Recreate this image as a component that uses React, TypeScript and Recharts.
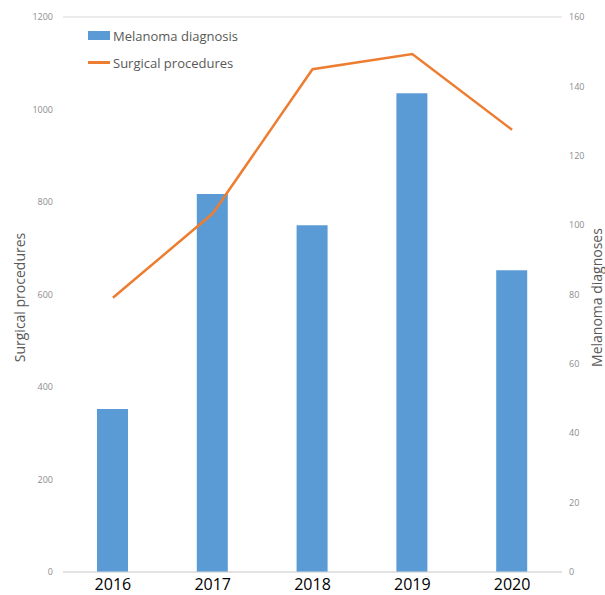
import { ComposedChart, Bar, Line, XAxis, YAxis, CartesianGrid, Legend, Label } from "recharts";

const years = ["2016", "2017", "2018", "2019", "2020"];
const melanomaDiagnoses = [47, 109, 100, 138, 87];
const surgicalProcedures = [593, 775, 1087, 1120, 956];
const leftTicks = [0, 200, 400, 600, 800, 1000, 1200];
const rightTicks = [0, 20, 40, 60, 80, 100, 120, 140, 160];

const BLUE = "#5b9bd5";
const ORANGE = "#ed7d31";
const FONT = "'Open Sans', sans-serif";

const data = years.map((year, i) => ({
  year,
  melanoma: melanomaDiagnoses[i],
  surgical: surgicalProcedures[i],
}));

function LegendBox({ payload }: any) {
  return (
    <div style={{ fontFamily: FONT, fontSize: 13, color: "#595959" }}>
      {(payload || []).map((item: any) => (
        <div key={item.value} style={{ display: "flex", alignItems: "center", height: 27 }}>
          {item.type === "line" ? (
            <span style={{ display: "inline-block", width: 22, height: 2.5, background: ORANGE, marginRight: 3 }} />
          ) : (
            <span style={{ display: "inline-block", width: 22, height: 9, background: BLUE, marginRight: 3 }} />
          )}
          <span>{item.value}</span>
        </div>
      ))}
    </div>
  );
}

const axisTitle = (text: string, dxFromLeft: number) => (props: any) => {
  const vb = props.viewBox;
  const x = vb.x + dxFromLeft;
  const y = vb.y + vb.height / 2 + 3;
  return (
    <text
      x={x}
      y={y}
      transform={`rotate(-90, ${x}, ${y})`}
      textAnchor="middle"
      dominantBaseline="central"
      fontFamily={FONT}
      fontSize={14}
      fill="#595959"
    >
      {text}
    </text>
  );
};

export default function App() {
  return (
    <div style={{ position: "absolute", left: 0, top: 0, background: "#fff" }}>
      <ComposedChart width={605} height={595} data={data} margin={{ top: 17, right: 0, bottom: 0, left: 0 }}>
        <CartesianGrid vertical={false} stroke="#d9d9d9" />
        <XAxis
          dataKey="year"
          height={23}
          tickLine={false}
          axisLine={{ stroke: "#d9d9d9" }}
          tickSize={5}
          tickMargin={2}
          tick={{ fontFamily: FONT, fontSize: 16, fill: "#000" }}
        />
        <YAxis
          yAxisId="left"
          orientation="left"
          width={63}
          domain={[0, 1200]}
          ticks={leftTicks}
          axisLine={false}
          tickLine={false}
          tickSize={8}
          tickMargin={2}
          tick={{ fontFamily: FONT, fontSize: 9, fill: "#8c8c8c" }}
        >
          <Label content={axisTitle("Surgical procedures", 19)} />
        </YAxis>
        <YAxis
          yAxisId="right"
          orientation="right"
          width={43}
          domain={[0, 160]}
          ticks={rightTicks}
          axisLine={false}
          tickLine={false}
          tickSize={5}
          tickMargin={2}
          tick={{ fontFamily: FONT, fontSize: 9, fill: "#8c8c8c" }}
        >
          <Label content={axisTitle("Melanoma diagnoses", 34)} />
        </YAxis>
        <Legend
          layout="vertical"
          align="center"
          verticalAlign="middle"
          content={<LegendBox />}
          wrapperStyle={{ left: 88, top: 22, width: "auto" }}
        />
        <Bar
          yAxisId="right"
          dataKey="melanoma"
          name="Melanoma diagnosis"
          fill={BLUE}
          barSize={31}
          isAnimationActive={false}
        />
        <Line
          yAxisId="left"
          dataKey="surgical"
          name="Surgical procedures"
          type="linear"
          stroke={ORANGE}
          strokeWidth={2.5}
          dot={false}
          legendType="line"
          isAnimationActive={false}
        />
      </ComposedChart>
    </div>
  );
}
